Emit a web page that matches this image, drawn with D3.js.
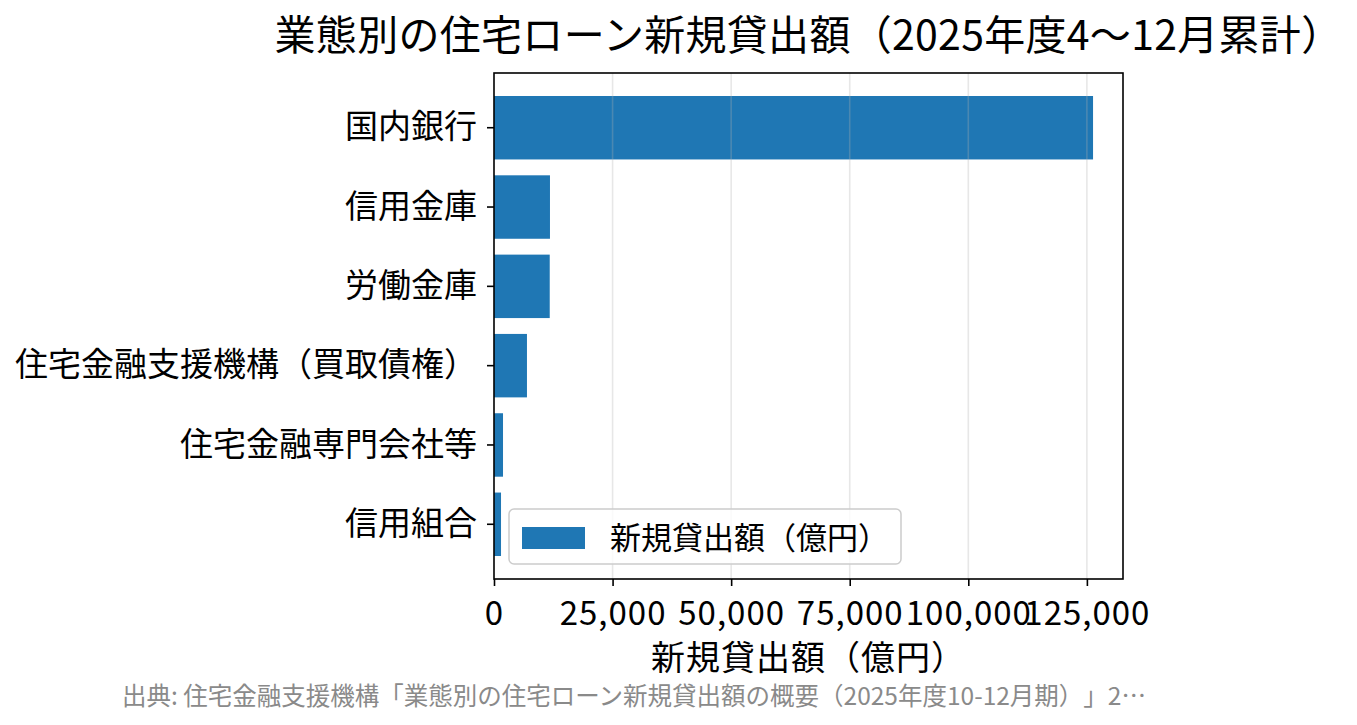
<!DOCTYPE html>
<html>
<head>
<meta charset="utf-8">
<script src="https://cdn.jsdelivr.net/npm/d3@7"></script>
<style>
  body { margin: 0; background: #fff; }
  text { font-family: "Noto Sans CJK JP", "Noto Sans", sans-serif; text-spacing-trim: space-all; }
</style>
</head>
<body>
<div id="chart"></div>
<script>
// 業態別データ（億円）
const categories = ["国内銀行", "信用金庫", "労働金庫", "住宅金融支援機構（買取債権）", "住宅金融専門会社等", "信用組合"];
const values = [126300, 11800, 11750, 6950, 1900, 1480];
const xTicks = [0, 25000, 50000, 75000, 100000, 125000];

const titleText = "業態別の住宅ローン新規貸出額（2025年度4〜12月累計）";
const xLabel = "新規貸出額（億円）";
const legendLabel = "新規貸出額（億円）";
const sourceText = "出典: 住宅金融支援機構「業態別の住宅ローン新規貸出額の概要（2025年度10-12月期）」2…";

const data = categories.map((c, i) => ({ name: c, value: values[i] }));

const W = 1357, H = 725;
const margin = { top: 73, right: 234, bottom: 146, left: 494 };
const width = W - margin.left - margin.right;
const height = H - margin.top - margin.bottom;
const barColor = "#1f77b4";

const svg = d3.select("#chart").append("svg")
    .attr("width", W)
    .attr("height", H);

const g = svg.append("g")
    .attr("transform", `translate(${margin.left},${margin.top})`);

// スケール
const xScale = d3.scaleLinear()
    .domain([0, d3.max(values) * 1.05])
    .range([0, width]);

const yScale = d3.scaleBand()
    .domain(categories)
    .range([0, height])
    .paddingInner(0.2)
    .paddingOuter(0.29);

// 棒
g.selectAll(".bar")
    .data(data)
    .enter()
    .append("rect")
    .attr("class", "bar")
    .attr("x", 0)
    .attr("y", d => yScale(d.name))
    .attr("width", d => xScale(d.value))
    .attr("height", yScale.bandwidth())
    .attr("fill", barColor);

// グリッド（棒の上に薄く）
g.selectAll(".grid")
    .data(xTicks.slice(1))
    .enter()
    .append("line")
    .attr("class", "grid")
    .attr("x1", d => xScale(d))
    .attr("x2", d => xScale(d))
    .attr("y1", 0)
    .attr("y2", height)
    .attr("stroke", "#b0b0b0")
    .attr("stroke-opacity", 0.3)
    .attr("stroke-width", 1.6);

// x軸
const xAxis = g.append("g")
    .attr("transform", `translate(0,${height})`)
    .call(d3.axisBottom(xScale).tickValues(xTicks).tickFormat(d3.format(",")).tickSize(7).tickPadding(16));
xAxis.select(".domain").remove();
xAxis.selectAll(".tick line").attr("stroke", "#000").attr("stroke-width", 1.6);
xAxis.selectAll(".tick text")
    .attr("font-size", 33)
    .attr("letter-spacing", 1)
    .attr("fill", "#000");

// y軸
const yAxis = g.append("g")
    .call(d3.axisLeft(yScale).tickSize(7).tickPadding(10));
yAxis.select(".domain").remove();
yAxis.selectAll(".tick line").attr("stroke", "#000").attr("stroke-width", 1.6);
yAxis.selectAll(".tick text").attr("font-size", 33).attr("fill", "#000");

// 枠線
g.append("rect")
    .attr("width", width)
    .attr("height", height)
    .attr("fill", "none")
    .attr("stroke", "#000")
    .attr("stroke-width", 1.6);

// 凡例
const legend = g.append("g")
    .attr("transform", `translate(${509 - margin.left},${509 - margin.top})`);
legend.append("rect")
    .attr("width", 392)
    .attr("height", 55)
    .attr("rx", 5)
    .attr("fill", "#fff")
    .attr("fill-opacity", 0.8)
    .attr("stroke", "#cccccc")
    .attr("stroke-width", 1.5);
legend.append("rect")
    .attr("x", 13)
    .attr("y", 18)
    .attr("width", 63)
    .attr("height", 22)
    .attr("fill", barColor);
legend.append("text")
    .attr("x", 101)
    .attr("y", 40)
    .attr("font-size", 31)
    .attr("fill", "#000")
    .text(legendLabel);

// タイトル・軸ラベル
svg.append("text")
    .attr("x", margin.left + width / 2)
    .attr("y", 50)
    .attr("text-anchor", "middle")
    .attr("font-size", 41)
    .attr("letter-spacing", 0.3)
    .attr("fill", "#000")
    .text(titleText);

svg.append("text")
    .attr("x", margin.left + width / 2)
    .attr("y", 670)
    .attr("text-anchor", "middle")
    .attr("font-size", 34)
    .attr("letter-spacing", 1)
    .attr("fill", "#000")
    .text(xLabel);

svg.append("text")
    .attr("x", 122)
    .attr("y", 705)
    .attr("font-size", 24.5)
    .attr("fill", "#8a8a8a")
    .text(sourceText);
</script>
</body>
</html>
